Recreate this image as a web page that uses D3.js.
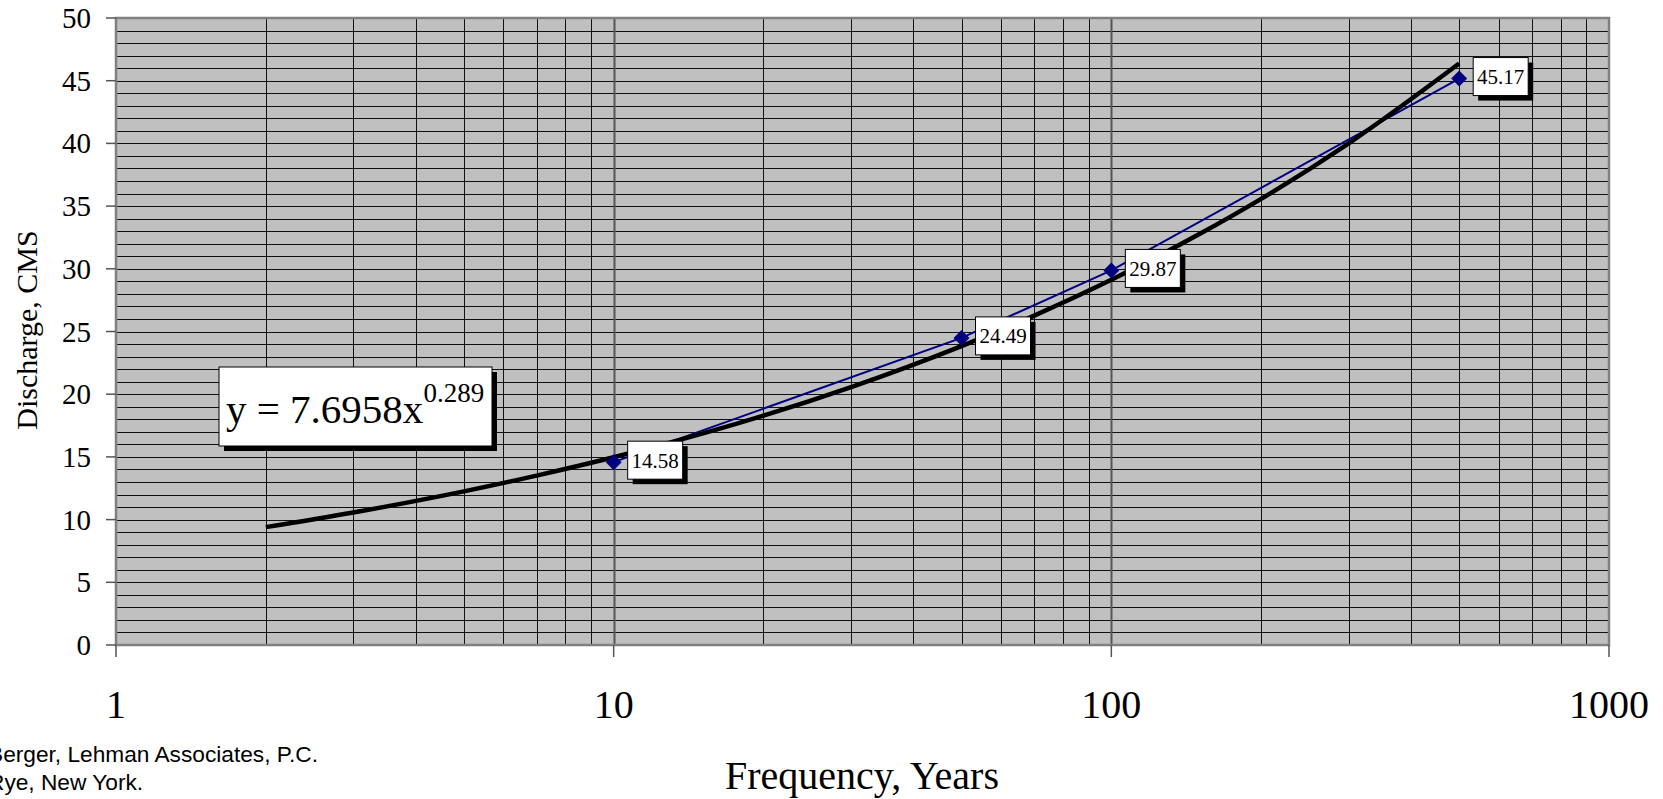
<!DOCTYPE html>
<html>
<head>
<meta charset="utf-8">
<script src="https://cdn.jsdelivr.net/npm/d3@7"></script>
<style>
  html, body { margin: 0; padding: 0; background: #ffffff; }
  svg { display: block; }
</style>
</head>
<body>
<svg id="chart" width="1663" height="799"></svg>
<script>
// ---- data ----
const returnPeriods = [10, 50, 100, 500];
const discharge = [14.58, 24.49, 29.87, 45.17];
const dataLabels = ["14.58", "24.49", "29.87", "45.17"];
// power trendline as drawn in the picture (x from 2 to 500)
const trendX = [2, 3, 5, 7, 10, 15, 20, 30, 50, 70, 100, 150, 200, 300, 500];
const trendY = [9.40, 10.57, 12.25, 13.51, 14.97, 16.83, 18.29, 20.57, 23.84, 26.27, 29.12, 32.75, 35.58, 40.01, 46.37];
const yTicks = [0, 5, 10, 15, 20, 25, 30, 35, 40, 45, 50];
const xTicks = [1, 10, 100, 1000];
const xTickLabels = ["1", "10", "100", "1000"];
const equationMain = "y = 7.6958x";
const equationExp = "0.289";
const xTitle = "Frequency, Years";
const yTitle = "Discharge, CMS";
const footer = ["Berger, Lehman Associates, P.C.", "Rye, New York."];

(function () {
// ---- layout ----
const pL = 116, pR = 1609, pT = 18, pB = 645;
const svg = d3.select("#chart");
const x = d3.scaleLog().domain([1, 1000]).range([pL, pR]);
const y = d3.scaleLinear().domain([0, 50]).range([pB, pT]);
const serif = "'Liberation Serif', 'Times New Roman', serif";
const sans = "'Liberation Sans', Arial, sans-serif";

// plot background
svg.append("rect")
  .attr("x", pL).attr("y", pT)
  .attr("width", pR - pL).attr("height", pB - pT)
  .attr("fill", "#c0c0c0");

// horizontal gridlines (every 1 unit)
const hGrid = d3.range(1, 50);
svg.append("g").selectAll("line").data(hGrid).join("line")
  .attr("x1", pL).attr("x2", pR)
  .attr("y1", d => Math.round(y(d)) + 0.5).attr("y2", d => Math.round(y(d)) + 0.5)
  .attr("stroke", "#111").attr("stroke-width", 1);

// vertical gridlines (log minor + decades)
const vGrid = [];
[1, 10, 100].forEach(dec => { for (let k = 2; k <= 10; k++) vGrid.push(dec * k); });
const vSet = Array.from(new Set(vGrid)).filter(d => d < 1000);
svg.append("g").selectAll("line").data(vSet).join("line")
  .attr("y1", pT).attr("y2", pB)
  .attr("x1", d => Math.round(x(d)) + 0.5).attr("x2", d => Math.round(x(d)) + 0.5)
  .attr("stroke", d => ([10, 100].includes(d) ? "#555" : "#111"))
  .attr("stroke-width", d => ([10, 100].includes(d) ? 2 : 1));

// plot border
svg.append("rect")
  .attr("x", pL).attr("y", pT)
  .attr("width", pR - pL).attr("height", pB - pT)
  .attr("fill", "none").attr("stroke", "#808080").attr("stroke-width", 2.5);

// y axis ticks & labels
svg.append("g").selectAll("line").data(yTicks).join("line")
  .attr("x1", pL - 10).attr("x2", pL)
  .attr("y1", d => y(d)).attr("y2", d => y(d))
  .attr("stroke", "#555").attr("stroke-width", 1.5);
svg.append("g").selectAll("text").data(yTicks).join("text")
  .attr("x", 91).attr("y", d => y(d) + 10)
  .attr("text-anchor", "end")
  .attr("font-family", serif).attr("font-size", 29)
  .attr("fill", "#000")
  .text(d => d);

// x axis ticks & labels
svg.append("g").selectAll("line").data(xTicks).join("line")
  .attr("x1", d => x(d)).attr("x2", d => x(d))
  .attr("y1", pB).attr("y2", pB + 12)
  .attr("stroke", "#555").attr("stroke-width", 1.5);
svg.append("g").selectAll("text").data(xTicks).join("text")
  .attr("x", d => x(d)).attr("y", 718)
  .attr("text-anchor", "middle")
  .attr("font-family", serif).attr("font-size", 40)
  .attr("fill", "#000")
  .text((d, i) => xTickLabels[i]);

// axis titles
svg.append("text")
  .attr("x", 862).attr("y", 789)
  .attr("text-anchor", "middle")
  .attr("font-family", serif).attr("font-size", 40)
  .text(xTitle);
svg.append("text")
  .attr("transform", "translate(37,330) rotate(-90)")
  .attr("text-anchor", "middle")
  .attr("font-family", serif).attr("font-size", 30)
  .text(yTitle);

// footer (partly cut at the left edge, as in the original)
svg.append("g").selectAll("text").data(footer).join("text")
  .attr("x", (d, i) => i === 0 ? -12 : -12)
  .attr("y", (d, i) => 762 + i * 28)
  .attr("text-anchor", "start")
  .attr("font-family", sans).attr("font-size", 22.7)
  .attr("fill", "#000")
  .text(d => d);

// data series line
const pts = returnPeriods.map((r, i) => [r, discharge[i]]);
svg.append("path")
  .datum(pts)
  .attr("d", d3.line().x(d => x(d[0])).y(d => y(d[1])))
  .attr("fill", "none").attr("stroke", "#000080").attr("stroke-width", 2);

// trendline
const trend = trendX.map((t, i) => [t, trendY[i]]);
svg.append("path")
  .datum(trend)
  .attr("d", d3.line().x(d => x(d[0])).y(d => y(d[1])).curve(d3.curveMonotoneX))
  .attr("fill", "none").attr("stroke", "#000").attr("stroke-width", 4.5)
  .attr("stroke-linecap", "butt");

// markers
svg.append("g").selectAll("path").data(pts).join("path")
  .attr("transform", d => `translate(${x(d[0])},${y(d[1])})`)
  .attr("d", "M0,-8L8,0L0,8L-8,0Z")
  .attr("fill", "#000080");

// data labels
const lbl = svg.append("g").selectAll("g").data(pts).join("g")
  .attr("transform", d => `translate(${x(d[0]) + 14},${y(d[1]) - 21})`);
lbl.append("rect").attr("x", 5).attr("y", 5).attr("width", 55).attr("height", 38).attr("fill", "#000");
lbl.append("rect").attr("x", 0).attr("y", 0).attr("width", 55).attr("height", 38)
  .attr("fill", "#fff").attr("stroke", "#000").attr("stroke-width", 1);
lbl.append("text")
  .attr("x", 27.5).attr("y", 26.5)
  .attr("text-anchor", "middle")
  .attr("font-family", serif).attr("font-size", 21)
  .text((d, i) => dataLabels[i]);

// equation box
const eq = svg.append("g").attr("transform", "translate(219,367)");
eq.append("rect").attr("x", 5).attr("y", 5).attr("width", 273).attr("height", 79).attr("fill", "#000");
eq.append("rect").attr("x", 0).attr("y", 0).attr("width", 273).attr("height", 79)
  .attr("fill", "#fff").attr("stroke", "#000").attr("stroke-width", 1);
const eqText = eq.append("text")
  .attr("x", 7).attr("y", 56)
  .attr("font-family", serif).attr("font-size", 41);
eqText.append("tspan").text(equationMain);
eqText.append("tspan").attr("font-size", 27).attr("dy", -21).text(equationExp);
})();
</script>
</body>
</html>
